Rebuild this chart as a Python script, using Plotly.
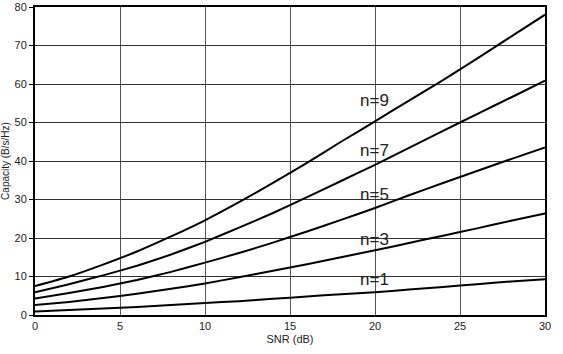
import plotly.graph_objects as go

snr = [0, 2, 4, 6, 8, 10, 12, 14, 16, 18, 20, 22, 24, 26, 28, 30]
cap_n1 = [0.9, 1.3, 1.7, 2.1, 2.6, 3.1, 3.6, 4.2, 4.8, 5.4, 5.9, 6.6, 7.3, 8.0, 8.7, 9.3]
cap_n3 = [2.6, 3.4, 4.4, 5.5, 6.8, 8.2, 9.8, 11.5, 13.2, 15.0, 16.8, 18.7, 20.6, 22.5, 24.5, 26.4]
cap_n5 = [4.3, 5.7, 7.3, 9.1, 11.2, 13.6, 16.1, 18.8, 21.7, 24.7, 27.8, 31.1, 34.3, 37.4, 40.5, 43.5]
cap_n7 = [5.9, 8.0, 10.3, 12.8, 15.7, 19.0, 22.7, 26.5, 30.6, 34.8, 39.0, 43.4, 47.8, 52.2, 56.5, 60.9]
cap_n9 = [7.5, 10.0, 13.1, 16.5, 20.4, 24.6, 29.3, 34.3, 39.5, 45.0, 50.3, 55.7, 61.0, 66.6, 72.3, 78.0]

labels = ["n=1", "n=3", "n=5", "n=7", "n=9"]
label_y = [9.1, 19.7, 31.4, 42.6, 55.6]
label_x = 19.95

fig = go.Figure()
for ys, name in zip([cap_n1, cap_n3, cap_n5, cap_n7, cap_n9], labels):
    fig.add_trace(go.Scatter(x=snr, y=ys, mode="lines", name=name,
                             line=dict(color="black", width=2, shape="spline", smoothing=0.4),
                             showlegend=False))

for lab, ly in zip(labels, label_y):
    fig.add_annotation(x=label_x, y=ly, text=lab, showarrow=False,
                       font=dict(size=17, color="#222", family="Liberation Sans, Arial"))

fig.update_layout(
    width=563, height=354,
    margin=dict(l=35, r=18, t=7, b=39),
    plot_bgcolor="white", paper_bgcolor="white",
    font=dict(family="Liberation Sans, Arial", size=11, color="#222"),
)
fig.update_xaxes(range=[0, 30], tickvals=[0, 5, 10, 15, 20, 25, 30],
                 showgrid=True, gridcolor="#555", gridwidth=1,
                 showline=True, linecolor="black", linewidth=2, mirror=True,
                 zeroline=False, ticks="", ticklen=0, automargin=False,
                 title=dict(text="SNR (dB)", font=dict(size=11), standoff=4))
fig.update_yaxes(range=[0, 80], tickvals=[0, 10, 20, 30, 40, 50, 60, 70, 80],
                 showgrid=True, gridcolor="#333", gridwidth=1,
                 showline=True, linecolor="black", linewidth=2, mirror=True,
                 zeroline=False, ticks="outside", ticklen=4, tickcolor="black",
                 automargin=False,
                 title=dict(text="Capacity (B/s/Hz)", font=dict(size=10), standoff=4))

fig.write_html("out.html")
